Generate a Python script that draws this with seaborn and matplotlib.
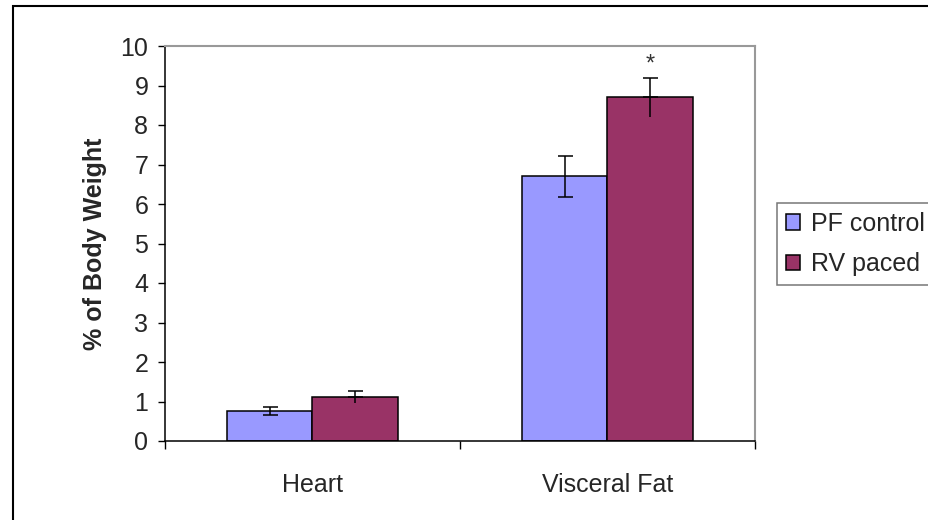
import matplotlib
matplotlib.use("Agg")
import matplotlib.pyplot as plt
import seaborn as sns
import pandas as pd
from matplotlib.patches import Rectangle

categories = ["Heart", "Visceral Fat"]
groups = ["PF control", "RV paced"]
pf_values = [0.76, 6.70]
pf_errors = [0.10, 0.52]
rv_values = [1.12, 8.70]
rv_errors = [0.15, 0.50]
y_ticks = [0, 1, 2, 3, 4, 5, 6, 7, 8, 9, 10]
colors = ["#9999FF", "#993366"]

df = pd.DataFrame({
    "category": categories * 2,
    "group": [groups[0]] * len(categories) + [groups[1]] * len(categories),
    "value": pf_values + rv_values,
})

sns.set_theme(style="white")
plt.rcParams["font.family"] = ["Liberation Sans", "DejaVu Sans"]

fig = plt.figure(figsize=(9.29, 5.2), dpi=100)
ax = fig.add_axes([165 / 929, 1 - 441 / 520, 590 / 929, 395 / 520])

sns.barplot(data=df, x="category", y="value", hue="group", order=categories,
            hue_order=groups, palette=colors, width=0.58, saturation=1,
            edgecolor="black", linewidth=1.1, errorbar=None, ax=ax, zorder=2)

# error bars
cont_pf, cont_rv = ax.containers[0], ax.containers[1]
for bar, v, e in zip(cont_pf, pf_values, pf_errors):
    xc = bar.get_x() + bar.get_width() / 2
    ax.errorbar(xc, v, yerr=e, fmt="none", ecolor="black", elinewidth=1.1,
                capsize=5.4, capthick=1.1, zorder=3)
for bar, v, e in zip(cont_rv, rv_values, rv_errors):
    xc = bar.get_x() + bar.get_width() / 2
    ax.errorbar(xc, v, yerr=[[0], [e]], fmt="none", ecolor="black", elinewidth=1.1,
                capsize=5.4, capthick=1.1, zorder=3)
    ax.errorbar(xc, v, yerr=[[e], [0]], fmt="none", ecolor="black", elinewidth=1.1,
                capsize=0, zorder=3)

# significance marker
b = cont_rv[1]
ax.text(b.get_x() + b.get_width() / 2, rv_values[1] + rv_errors[1] + 0.05, "*",
        ha="center", va="bottom", fontsize=17, color="#333333")

ax.set_xlim(-0.5, 1.5)
ax.set_ylim(0, 10)
ax.set_yticks(y_ticks)
ax.set_yticklabels([str(t) for t in y_ticks])
ax.set_xlabel("")
ax.set_ylabel("% of Body Weight", fontsize=18, fontweight="bold")
ax.yaxis.set_label_coords(-0.099, 0.5)

ax.tick_params(axis="y", which="major", direction="out", length=5, width=1,
               color="black", labelsize=18, pad=7, left=True)
ax.tick_params(axis="x", which="major", length=0, labelsize=18, pad=23)
ax.set_xticks([-0.5, 0.5, 1.5], minor=True)
ax.tick_params(axis="x", which="minor", direction="out", length=6, width=1,
               color="black", bottom=True)

for side in ["left", "bottom"]:
    ax.spines[side].set_color("black")
    ax.spines[side].set_linewidth(1.1)
for side in ["top", "right"]:
    ax.spines[side].set_color("#999999")
    ax.spines[side].set_linewidth(1.5)
    ax.spines[side].set_visible(True)

leg = ax.legend(loc="upper left", bbox_to_anchor=(777 / 929, 1 - 203 / 520),
                bbox_transform=fig.transFigure, borderaxespad=0, fontsize=18,
                frameon=True, fancybox=False, handlelength=0.56, handleheight=0.56,
                handletextpad=0.45, labelspacing=0.65, borderpad=0.35)
leg.get_frame().set_edgecolor("#555555")
leg.get_frame().set_linewidth(1.1)
for h in leg.legend_handles:
    h.set_edgecolor("black")
    h.set_linewidth(1.1)

# figure border
fig.patches.append(Rectangle((13 / 929, -0.1), 1.2, 1.1 - 6 / 520,
                             transform=fig.transFigure, fill=False,
                             edgecolor="black", linewidth=1.5, zorder=10))

fig.savefig("out.png", dpi=100)
